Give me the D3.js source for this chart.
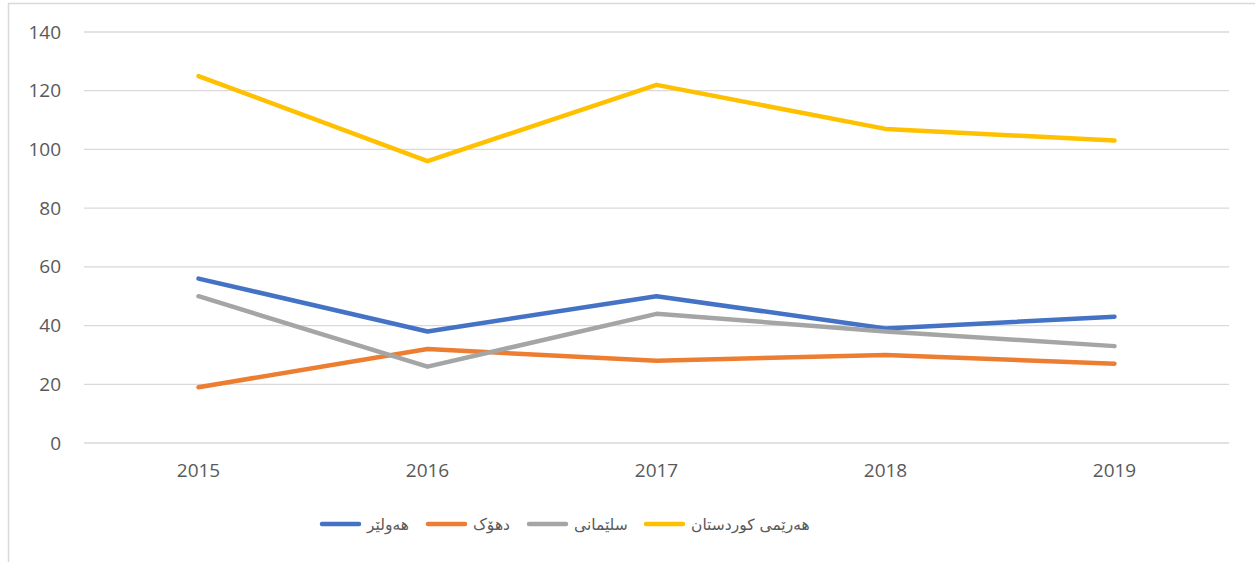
<!DOCTYPE html>
<html><head><meta charset="utf-8">
<script src="https://cdn.jsdelivr.net/npm/d3@7"></script>
<style>body{margin:0;background:#fff}svg{display:block}</style>
</head><body>
<svg id="c" width="1255" height="562"></svg>
<script>
const years = ["2015","2016","2017","2018","2019"];
const seriesNames = ["هەولێر","دهۆک","سلێمانی","هەرێمی کوردستان"];
const erbil = [56,38,50,39,43];
const duhok = [19,32,28,30,27];
const sulaymaniyah = [50,26,44,38,33];
const kurdistan = [125,96,122,107,103];
const yTicks = [0,20,40,60,80,100,120,140];
const colors = ["#4472C4","#ED7D31","#A5A5A5","#FFC000"];

const series = [erbil, duhok, sulaymaniyah, kurdistan];
const svg = d3.select("#c");
const font = "'Open Sans', 'DejaVu Sans', sans-serif";

// outer border
svg.append("rect").attr("x",8.5).attr("y",3.5).attr("width",1260).attr("height",570)
  .attr("fill","none").attr("stroke","#D9D9D9").attr("stroke-width",1.5);

const x = d3.scaleBand().domain(years).range([84,1229]);
const y = d3.scaleLinear().domain([0,140]).range([443,32]);

// gridlines
svg.append("g").selectAll("line").data(yTicks).join("line")
  .attr("x1",84).attr("x2",1229).attr("y1",d=>y(d)).attr("y2",d=>y(d))
  .attr("stroke","#D9D9D9").attr("stroke-width",1.3);

// y axis
const ya = svg.append("g").attr("transform","translate(84,0)")
  .call(d3.axisLeft(y).tickValues(yTicks).tickSize(0).tickPadding(23));
ya.select(".domain").remove();
ya.selectAll("text").attr("fill","#595959").attr("font-size",19).attr("font-family",font);

// x axis
const xa = svg.append("g").attr("transform","translate(0,443)")
  .call(d3.axisBottom(x).tickSize(0).tickPadding(21));
xa.select(".domain").remove();
xa.selectAll("text").attr("fill","#595959").attr("font-size",19).attr("font-family",font);

// lines
const line = d3.line().x((d,i)=>x(years[i])+x.bandwidth()/2).y(d=>y(d));
svg.append("g").selectAll("path").data(series).join("path")
  .attr("d",line).attr("fill","none").attr("stroke",(d,i)=>colors[i])
  .attr("stroke-width",4.5).attr("stroke-linecap","round").attr("stroke-linejoin","round");

// legend
const legX = [322,428,529,646];
const lg = svg.append("g").selectAll("g").data(seriesNames).join("g")
  .attr("transform",(d,i)=>`translate(${legX[i]},524)`);
lg.append("line").attr("x1",0).attr("x2",37).attr("y1",0).attr("y2",0)
  .attr("stroke",(d,i)=>colors[i]).attr("stroke-width",4.5).attr("stroke-linecap","round");
lg.append("text").attr("x",45).attr("y",6).text(d=>d)
  .attr("fill","#595959").attr("font-size",15.5).attr("font-family","'DejaVu Sans', sans-serif")
  .attr("direction","rtl").attr("text-anchor","end");
</script>
</body></html>
